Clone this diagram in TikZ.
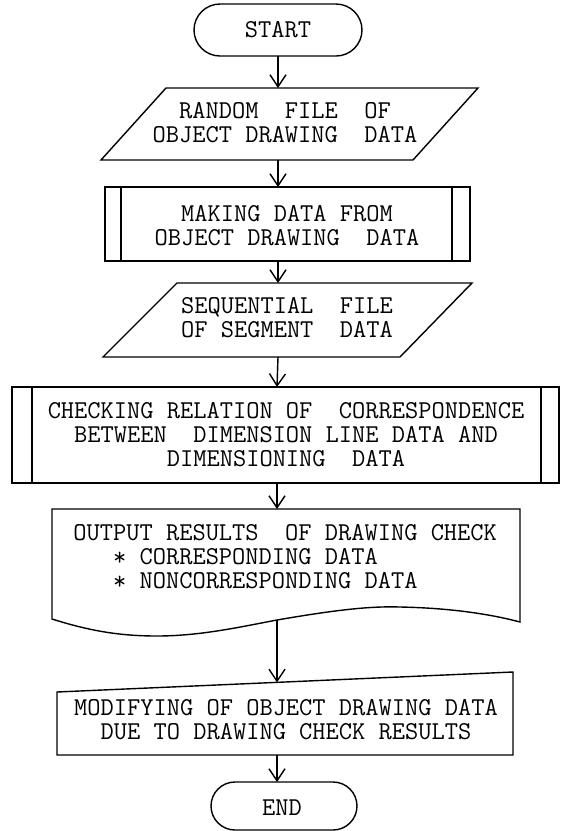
\documentclass[tikz,border=0pt]{standalone}
\usepackage{fontspec}
\usetikzlibrary{arrows.meta}
\tikzset{
  shapeline/.style={line width=0.7pt, line join=miter},
  label/.style={font=\ttfamily\fontsize{12.85}{12}\selectfont, align=center, inner sep=0pt},
  flow/.style={line width=0.7pt, -{Straight Barb[length=6pt,width=8pt,line width=0.7pt]}}
}
\newcommand{\starmark}{\raisebox{-0.12ex}{*}}
\begin{document}
\begin{tikzpicture}[x=0.5pt,y=-0.5pt]
\useasboundingbox (0,0) rectangle (561,831);

% start terminal
\draw[shapeline, rounded corners=13pt] (194,4) rectangle (362,56);
\node[label] (start) at (278,30) {START};
\coordinate (start-s) at (278,56);

% random file (input/output)
\draw[shapeline] (101,160) -- (413,160) -- (478,88) -- (166,88) -- cycle;
\node[label] (rfile) at (285,123) {RANDOM~~FILE~~OF\\OBJECT DRAWING~~DATA};
\coordinate (rfile-n) at (278,88);
\coordinate (rfile-s) at (278,160);

% predefined process: making data
\draw[shapeline] (105,187) rectangle (470,261);
\draw[shapeline] (121,187) -- (121,261) (452,187) -- (452,261);
\node[label] (make) at (287,225.5) {MAKING DATA FROM\\OBJECT DRAWING~~DATA};
\coordinate (make-n) at (278,187);
\coordinate (make-s) at (278,261);

% sequential file (input/output)
\draw[shapeline] (103,357) -- (400,357) -- (472,283) -- (177,283) -- cycle;
\node[label] (seq) at (287,318) {SEQUENTIAL~~FILE\\OF SEGMENT~~DATA};
\coordinate (seq-n) at (278,283);
\coordinate (seq-s) at (278,357);

% predefined process: checking correspondence
\draw[shapeline] (12,387) rectangle (559,483);
\draw[shapeline] (32,387) -- (32,483) (541,387) -- (541,483);
\node[label] (check) at (286,435) {CHECKING RELATION OF~~CORRESPONDENCE\\BETWEEN~~DIMENSION LINE DATA AND\\DIMENSIONING~~DATA};
\coordinate (check-n) at (277,387);
\coordinate (check-s) at (277,483);

% document: output results
\draw[shapeline] (277,620) .. controls (335,610) and (370,606) .. (400,607)
  .. controls (450,608) and (490,614) .. (520,622) -- (520,509) -- (52,509) -- (52,619)
  .. controls (90,631) and (120,636) .. (157,636)
  .. controls (200,636) and (240,627) .. (277,620) -- cycle;
\node[label, anchor=west, align=left] (out) at (73,557)
  {OUTPUT RESULTS~~OF DRAWING CHECK\\~~~\starmark{} CORRESPONDING DATA\\~~~\starmark{} NONCORRESPONDING DATA};
\coordinate (out-n) at (277,509);
\coordinate (out-s) at (277,620);

% manual input: modifying data
\draw[shapeline] (57,692) -- (513,672) -- (513,755) -- (57,755) -- cycle;
\node[label] (modify) at (286,720) {MODIFYING OF OBJECT DRAWING DATA\\DUE TO DRAWING CHECK RESULTS};
\coordinate (modify-n) at (277,682.4);
\coordinate (modify-s) at (277,755);

% end terminal
\draw[shapeline, rounded corners=12pt] (211,782) rectangle (357,830);
\node[label] (end) at (282,808) {END};
\coordinate (end-n) at (277,782);

% connectors
\draw[flow] (start-s) -- (rfile-n);
\draw[flow] (rfile-s) -- (make-n);
\draw[flow] (make-s) -- (seq-n);
\draw[flow] (seq-s) -- (check-n);
\draw[flow] (check-s) -- (out-n);
\draw[flow] (out-s) -- (modify-n);
\draw[flow] (modify-s) -- (end-n);
\end{tikzpicture}
\end{document}
